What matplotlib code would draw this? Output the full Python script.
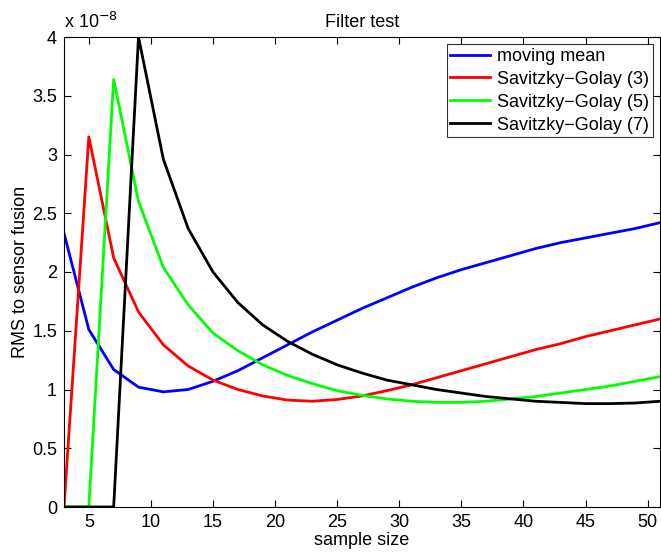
import numpy as np
import matplotlib
matplotlib.use("Agg")
import matplotlib.pyplot as plt

plt.rcParams['font.family'] = ['Liberation Sans', 'DejaVu Sans']

sample_size = list(range(3, 52, 2))
moving_mean = [2.33, 1.51, 1.17, 1.02, 0.98, 1.00, 1.07, 1.16, 1.27, 1.38, 1.49, 1.59, 1.69,
               1.78, 1.87, 1.95, 2.02, 2.08, 2.14, 2.20, 2.25, 2.29, 2.33, 2.37, 2.42]
sg3 = [0.0, 3.15, 2.12, 1.66, 1.38, 1.20, 1.08, 1.00, 0.945, 0.91, 0.90, 0.915, 0.945,
       0.99, 1.04, 1.10, 1.16, 1.22, 1.28, 1.34, 1.39, 1.45, 1.50, 1.55, 1.60]
sg5 = [0.0, 0.0, 3.64, 2.60, 2.04, 1.72, 1.48, 1.33, 1.21, 1.12, 1.05, 0.99, 0.95,
       0.92, 0.90, 0.89, 0.89, 0.90, 0.92, 0.94, 0.97, 1.00, 1.03, 1.07, 1.11]
sg7 = [0.0, 0.0, 0.0, 4.00, 2.96, 2.37, 2.00, 1.74, 1.55, 1.41, 1.30, 1.21, 1.14,
       1.08, 1.04, 1.00, 0.97, 0.94, 0.92, 0.90, 0.89, 0.88, 0.88, 0.885, 0.90]
labels = ["moving mean", "Savitzky\u2212Golay (3)", "Savitzky\u2212Golay (5)", "Savitzky\u2212Golay (7)"]
colors = ["#0000ff", "#ff0000", "#00ff00", "#000000"]

fig = plt.figure(figsize=(6.61, 5.53), dpi=100)
ax = fig.add_axes([64/661, 1 - 507/553, (660-64)/661, (507-37)/553])

for ys, lab, c in zip([moving_mean, sg3, sg5, sg7], labels, colors):
    ax.plot(sample_size, ys, color=c, lw=2, label=lab)

ax.set_xlim(3, 51)
ax.set_ylim(0, 4)
ax.set_xticks(range(5, 51, 5))
ax.set_yticks(np.arange(0, 4.01, 0.5))
ax.set_yticklabels(["0", "0.5", "1", "1.5", "2", "2.5", "3", "3.5", "4"])
ax.tick_params(direction='in', top=True, right=True, labelsize=13, length=5, width=0.8, pad=5)
for s in ax.spines.values():
    s.set_linewidth(0.8)

ax.set_title("Filter test", fontsize=13, pad=7)
ax.set_xlabel("sample size", fontsize=13, labelpad=1)
ax.set_ylabel("RMS to sensor fusion", fontsize=13, labelpad=2)
ax.text(0.0, 1.01, r"x 10$^{-8}$", transform=ax.transAxes, fontsize=13, ha='left', va='bottom')

leg = ax.legend(loc='upper right', fontsize=13, frameon=True, fancybox=False, edgecolor='black',
                borderaxespad=0.4, handlelength=2.2, labelspacing=0.33, borderpad=0.2, handletextpad=0.4)
leg.get_frame().set_linewidth(0.8)

fig.savefig("out.png", dpi=100)
